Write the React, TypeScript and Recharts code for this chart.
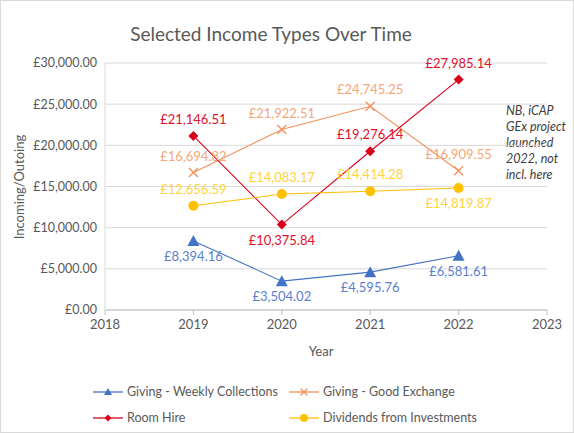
import { LineChart, Line, XAxis, YAxis, CartesianGrid, LabelList } from 'recharts'

const years = [2019, 2020, 2021, 2022]
const weeklyCollections = [8394.16, 3504.02, 4595.76, 6581.61]
const goodExchange = [16694.82, 21922.51, 24745.25, 16909.55]
const roomHire = [21146.51, 10375.84, 19276.14, 27985.14]
const dividends = [12656.59, 14083.17, 14414.28, 14819.87]

const xTicks = [2018, 2019, 2020, 2021, 2022, 2023]
const yTicks = [0, 5000, 10000, 15000, 20000, 25000, 30000]

// label above or below each point, per series
const bluePos = ['below', 'below', 'below', 'below']
const orangePos = ['above', 'above', 'above', 'above']
const redPos = ['above', 'below', 'above', 'above']
const yellowPos = ['above', 'above', 'above', 'below']

const data = years.map((year, i) => ({
  year,
  weekly: weeklyCollections[i],
  exchange: goodExchange[i],
  room: roomHire[i],
  dividends: dividends[i],
}))

const FONT = 'Lato, "Liberation Sans", sans-serif'
const money = (v: number) =>
  '£' + v.toLocaleString('en-GB', { minimumFractionDigits: 2, maximumFractionDigits: 2 })

const C = {
  blue: '#4472c4',
  blueText: '#5b7fcf',
  orange: '#f2915a',
  orangeText: '#f4a77a',
  red: '#d9001b',
  redText: '#e0102a',
  yellow: '#ffc000',
  yellowText: '#ffd23f',
}

function makeLabel(pos: string[], color: string) {
  return (props: any) => {
    const { x, y, value, index } = props
    const below = pos[index] === 'below'
    return (
      <text
        x={x}
        y={below ? y + 20 : y - 12}
        textAnchor="middle"
        fill={color}
        fontSize={13}
        fontFamily={FONT}
      >
        {money(value)}
      </text>
    )
  }
}

const Triangle = (props: any) => {
  const { cx, cy, key } = props
  if (cx == null) return null
  return <path key={key} d={`M${cx},${cy - 6} L${cx + 6},${cy + 5} L${cx - 6},${cy + 5} Z`} fill={C.blue} />
}
const Cross = (props: any) => {
  const { cx, cy, key } = props
  if (cx == null) return null
  const s = 4.5
  return (
    <path
      key={key}
      d={`M${cx - s},${cy - s} L${cx + s},${cy + s} M${cx - s},${cy + s} L${cx + s},${cy - s}`}
      stroke={C.orange}
      strokeWidth={1.3}
    />
  )
}
const Diamond = (props: any) => {
  const { cx, cy, key } = props
  if (cx == null) return null
  return <path key={key} d={`M${cx},${cy - 5} L${cx + 5},${cy} L${cx},${cy + 5} L${cx - 5},${cy} Z`} fill={C.red} />
}
const Circle = (props: any) => {
  const { cx, cy, key } = props
  if (cx == null) return null
  return <circle key={key} cx={cx} cy={cy} r={5} fill={C.yellow} />
}

const legendItems = [
  { name: 'Giving - Weekly Collections', color: C.blue, shape: 'tri', x: 92, y: 391 },
  { name: 'Giving - Good Exchange', color: C.orange, shape: 'x', x: 288, y: 391 },
  { name: 'Room Hire', color: C.red, shape: 'dia', x: 92, y: 417 },
  { name: 'Dividends from Investments', color: C.yellow, shape: 'dot', x: 288, y: 417 },
]

function LegendIcon({ shape, color }: { shape: string; color: string }) {
  return (
    <svg width={30} height={12} style={{ display: 'block' }}>
      <line x1={0} y1={6} x2={30} y2={6} stroke={color} strokeWidth={1.3} />
      {shape === 'tri' && <path d="M15,2 L19,9 L11,9 Z" fill={color} />}
      {shape === 'x' && <path d="M11.5,2.5 L18.5,9.5 M11.5,9.5 L18.5,2.5" stroke={color} strokeWidth={1.3} />}
      {shape === 'dia' && <path d="M15,2.5 L18.5,6 L15,9.5 L11.5,6 Z" fill={color} />}
      {shape === 'dot' && <circle cx={15} cy={6} r={4} fill={color} />}
    </svg>
  )
}

export default function App() {
  return (
    <div
      style={{
        position: 'absolute',
        left: 0,
        top: 0,
        width: 574,
        height: 433,
        background: '#fff',
        fontFamily: FONT,
        border: '1px solid #d9d9d9',
        boxSizing: 'border-box',
      }}
    >
      <div
        style={{
          position: 'absolute',
          top: 21,
          left: 0,
          width: 540,
          textAlign: 'center',
          fontSize: 19,
          color: '#595959',
        }}
      >
        Selected Income Types Over Time
      </div>
      <div
        style={{
          position: 'absolute',
          left: 18 - 70,
          top: 186 - 8,
          width: 140,
          textAlign: 'center',
          fontSize: 13,
          color: '#595959',
          transform: 'rotate(-90deg)',
        }}
      >
        Incoming/Outoing
      </div>
      <div
        style={{
          position: 'absolute',
          top: 342,
          left: 300,
          width: 40,
          textAlign: 'center',
          fontSize: 13,
          color: '#595959',
        }}
      >
        Year
      </div>
      <div
        style={{
          position: 'absolute',
          left: 505,
          top: 102,
          fontSize: 12.5,
          fontStyle: 'italic',
          color: '#404040',
          lineHeight: '16px',
        }}
      >
        NB, iCAP
        <br />
        GEx project
        <br />
        launched
        <br />
        2022, not
        <br />
        incl. here
      </div>
      {legendItems.map((it) => (
        <div
          key={it.name}
          style={{
            position: 'absolute',
            left: it.x,
            top: it.y - 8,
            display: 'flex',
            alignItems: 'center',
            gap: 4,
            fontSize: 12.5,
            color: '#595959',
          }}
        >
          <LegendIcon shape={it.shape} color={it.color} />
          <span>{it.name}</span>
        </div>
      ))}
      <div style={{ position: 'absolute', left: -1, top: -1 }}>
        <LineChart width={574} height={340} data={data} margin={{ top: 63, right: 27, bottom: 0, left: 0 }}>
          <CartesianGrid vertical={false} stroke="#d9d9d9" />
          <XAxis
            dataKey="year"
            type="number"
            domain={[2018, 2023]}
            ticks={xTicks}
            height={30}
            tick={{ fontSize: 13, fill: '#595959', fontFamily: FONT, dy: 3 }}
            axisLine={{ stroke: '#bfbfbf' }}
            tickLine={{ stroke: '#bfbfbf' }}
            tickSize={5}
          />
          <YAxis
            type="number"
            domain={[0, 30000]}
            ticks={yTicks}
            width={105}
            tickFormatter={money}
            tick={{ fontSize: 12.5, fill: '#595959', fontFamily: FONT }}
            axisLine={{ stroke: '#d9d9d9' }}
            tickLine={false}
          />
          <Line
            dataKey="weekly"
            stroke={C.blue}
            strokeWidth={1.1}
            dot={Triangle}
            activeDot={false}
            isAnimationActive={false}
          >
            <LabelList dataKey="weekly" content={makeLabel(bluePos, C.blueText)} />
          </Line>
          <Line
            dataKey="exchange"
            stroke={C.orange}
            strokeWidth={1.1}
            dot={Cross}
            activeDot={false}
            isAnimationActive={false}
          >
            <LabelList dataKey="exchange" content={makeLabel(orangePos, C.orangeText)} />
          </Line>
          <Line
            dataKey="room"
            stroke={C.red}
            strokeWidth={1.1}
            dot={Diamond}
            activeDot={false}
            isAnimationActive={false}
          >
            <LabelList dataKey="room" content={makeLabel(redPos, C.redText)} />
          </Line>
          <Line
            dataKey="dividends"
            stroke={C.yellow}
            strokeWidth={1.1}
            dot={Circle}
            activeDot={false}
            isAnimationActive={false}
          >
            <LabelList dataKey="dividends" content={makeLabel(yellowPos, C.yellowText)} />
          </Line>
        </LineChart>
      </div>
    </div>
  )
}
